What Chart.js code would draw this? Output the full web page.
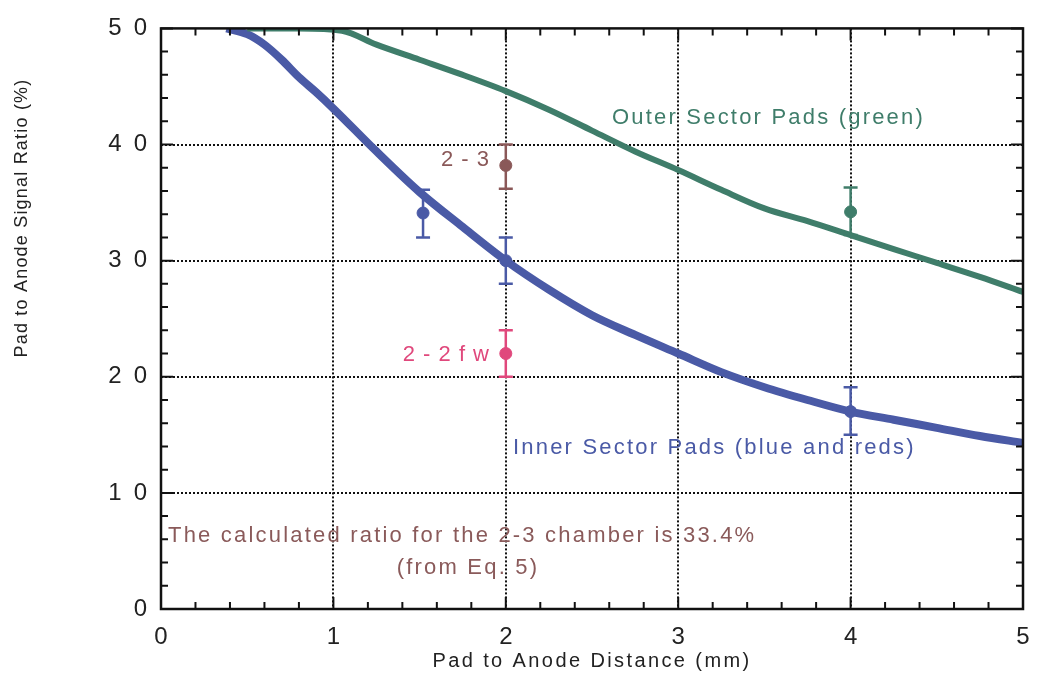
<!DOCTYPE html>
<html>
<head>
<meta charset="utf-8">
<script src="https://cdn.jsdelivr.net/npm/chart.js@4/dist/chart.umd.min.js"></script>
<style>
  body { margin: 0; background: #fff; }
  #wrap { width: 1038px; height: 673px; }
</style>
</head>
<body>
<div id="wrap"><canvas id="c" width="1038" height="673"></canvas></div>
<script>
// curvas
const innerX = [0.38, 0.5, 0.6, 0.7, 0.8, 0.9, 1.0, 1.25, 1.5, 1.75, 2.0, 2.25, 2.5, 2.75, 3.0, 3.25, 3.5, 3.75, 4.0, 4.25, 4.5, 4.75, 5.0];
const innerY = [50, 49.5, 48.6, 47.3, 45.8, 44.5, 43.1, 39.4, 35.9, 32.9, 30.0, 27.5, 25.3, 23.6, 22.0, 20.4, 19.1, 18.0, 17.0, 16.3, 15.6, 14.9, 14.3];

const outerX = [0.5, 0.8, 1.05, 1.25, 1.5, 1.73, 2.0, 2.25, 2.5, 2.75, 3.0, 3.25, 3.5, 3.75, 4.0, 4.25, 4.5, 4.75, 5.0];
const outerY = [50, 50, 49.8, 48.6, 47.3, 46.1, 44.6, 43.0, 41.2, 39.4, 37.8, 36.1, 34.5, 33.4, 32.2, 31.0, 29.8, 28.6, 27.3];

// pontos medidos com barras de erro
const measX    = [1.52, 2.0, 2.0, 2.0, 4.0, 4.0];
const measY    = [34.1, 30.0, 38.2, 22.0, 34.2, 17.0];
const measLow  = [32.0, 28.0, 36.2, 20.0, 32.2, 15.0];
const measHigh = [36.1, 32.0, 40.0, 24.0, 36.3, 19.1];
const measColor = ['#4a5aa6', '#4a5aa6', '#8a5858', '#e0487c', '#3f7d6a', '#4a5aa6'];

const xTicks = [0, 1, 2, 3, 4, 5];
const yTicks = [0, 10, 20, 30, 40, 50];

const BLUE = '#4a5aa6';
const GREEN = '#3f7d6a';
const FONT = '"Liberation Sans", Arial, sans-serif';

function pairs(xs, ys) {
    return xs.map((x, i) => ({ x: x, y: ys[i] }));
}

// Plugin: moldura, marcas menores, barras de erro e textos
const decorations = {
    id: 'decorations',
    beforeDatasetsDraw(chart) {
        const { ctx, scales: { x, y } } = chart;
        ctx.save();
        // barras de erro
        measX.forEach((mx, i) => {
            const px = x.getPixelForValue(mx);
            const lo = y.getPixelForValue(measLow[i]);
            const hi = y.getPixelForValue(measHigh[i]);
            ctx.strokeStyle = measColor[i];
            ctx.lineWidth = 2.5;
            ctx.beginPath();
            ctx.moveTo(px, lo); ctx.lineTo(px, hi);
            ctx.moveTo(px - 7, lo); ctx.lineTo(px + 7, lo);
            ctx.moveTo(px - 7, hi); ctx.lineTo(px + 7, hi);
            ctx.stroke();
        });
        ctx.restore();
    },
    afterDraw(chart) {
        const { ctx, chartArea: a, scales: { x, y } } = chart;
        ctx.save();
        // moldura
        ctx.strokeStyle = '#111';
        ctx.lineWidth = 2.5;
        ctx.strokeRect(a.left, a.top, a.right - a.left, a.bottom - a.top);

        // marcas (para dentro)
        ctx.lineWidth = 2;
        ctx.beginPath();
        for (let v = 0; v <= 5.001; v += 0.2) {
            const px = x.getPixelForValue(v);
            const major = Math.abs(v - Math.round(v)) < 0.01;
            const len = major ? 12 : 7;
            ctx.moveTo(px, a.bottom); ctx.lineTo(px, a.bottom - len);
            ctx.moveTo(px, a.top); ctx.lineTo(px, a.top + len);
        }
        for (let v = 0; v <= 50.01; v += 2) {
            const py = y.getPixelForValue(v);
            const major = v % 10 === 0;
            const len = major ? 12 : 7;
            ctx.moveTo(a.left, py); ctx.lineTo(a.left + len, py);
            ctx.moveTo(a.right, py); ctx.lineTo(a.right - len, py);
        }
        ctx.stroke();

        // textos
        ctx.textBaseline = 'middle';
        ctx.textAlign = 'left';
        ctx.letterSpacing = '2.2px';
        ctx.font = '22px ' + FONT;
        ctx.fillStyle = GREEN;
        ctx.fillText('Outer Sector Pads (green)', 612, 118);
        ctx.fillStyle = BLUE;
        ctx.fillText('Inner Sector Pads (blue and reds)', 513, 448);
        ctx.fillStyle = '#8a5a5a';
        ctx.fillText('The calculated ratio for the 2-3 chamber is 33.4%', 168, 536);
        ctx.textAlign = 'center';
        ctx.fillText('(from Eq. 5)', 468, 568);
        ctx.textAlign = 'right';
        ctx.letterSpacing = '1px';
        ctx.fillStyle = '#8a5858';
        ctx.fillText('2 - 3', 490, 160);
        ctx.fillStyle = '#e0487c';
        ctx.fillText('2 - 2 f w', 490, 355);

        // títulos dos eixos
        ctx.fillStyle = '#222';
        ctx.textAlign = 'center';
        ctx.letterSpacing = '2.4px';
        ctx.font = '20px ' + FONT;
        ctx.fillText('Pad to Anode Distance (mm)', 592, 661);
        ctx.letterSpacing = '1.2px';
        ctx.font = '18px ' + FONT;
        ctx.translate(22, 218);
        ctx.rotate(-Math.PI / 2);
        ctx.fillText('Pad to Anode Signal Ratio (%)', 0, 0);
        ctx.restore();
    }
};

const gridOpts = (edge) => ({
    drawTicks: false,
    lineWidth: 2,
    color: (c) => (c.tick.value === 0 || c.tick.value === edge) ? 'rgba(0,0,0,0)' : '#111'
});

const ctx = document.getElementById('c').getContext('2d');
new Chart(ctx, {
    type: 'scatter',
    data: {
        datasets: [
            {
                label: 'Outer',
                data: pairs(outerX, outerY),
                showLine: true,
                borderColor: GREEN,
                borderWidth: 6,
                pointRadius: 0,
                cubicInterpolationMode: 'monotone'
            },
            {
                label: 'Inner',
                data: pairs(innerX, innerY),
                showLine: true,
                borderColor: BLUE,
                borderWidth: 8,
                pointRadius: 0,
                cubicInterpolationMode: 'monotone'
            },
            {
                label: 'Medidas',
                data: pairs(measX, measY),
                showLine: false,
                pointRadius: 6,
                pointBackgroundColor: measColor,
                pointBorderColor: measColor
            }
        ]
    },
    options: {
        responsive: false,
        animation: false,
        devicePixelRatio: 1,
        layout: { padding: { left: 0, top: 28, right: 15, bottom: 0 } },
        plugins: {
            legend: { display: false },
            tooltip: { enabled: false }
        },
        scales: {
            x: {
                type: 'linear',
                min: 0,
                max: 5,
                afterFit: (s) => { s.height = 64; s.paddingLeft = 0; s.paddingRight = 0; },
                afterBuildTicks: (s) => { s.ticks = xTicks.map(v => ({ value: v })); },
                border: { display: false, dash: [2, 2] },
                grid: gridOpts(5),
                ticks: {
                    padding: 14,
                    color: '#222',
                    font: { family: FONT, size: 24 }
                }
            },
            y: {
                type: 'linear',
                min: 0,
                max: 50,
                afterFit: (s) => { s.width = 161; },
                afterBuildTicks: (s) => { s.ticks = yTicks.map(v => ({ value: v })); },
                border: { display: false, dash: [2, 2] },
                grid: gridOpts(50),
                ticks: {
                    padding: 14,
                    color: '#222',
                    font: { family: FONT, size: 24 },
                    callback: (v) => String(v).split('').join('\u2002')
                }
            }
        }
    },
    plugins: [decorations]
});
</script>
</body>
</html>
